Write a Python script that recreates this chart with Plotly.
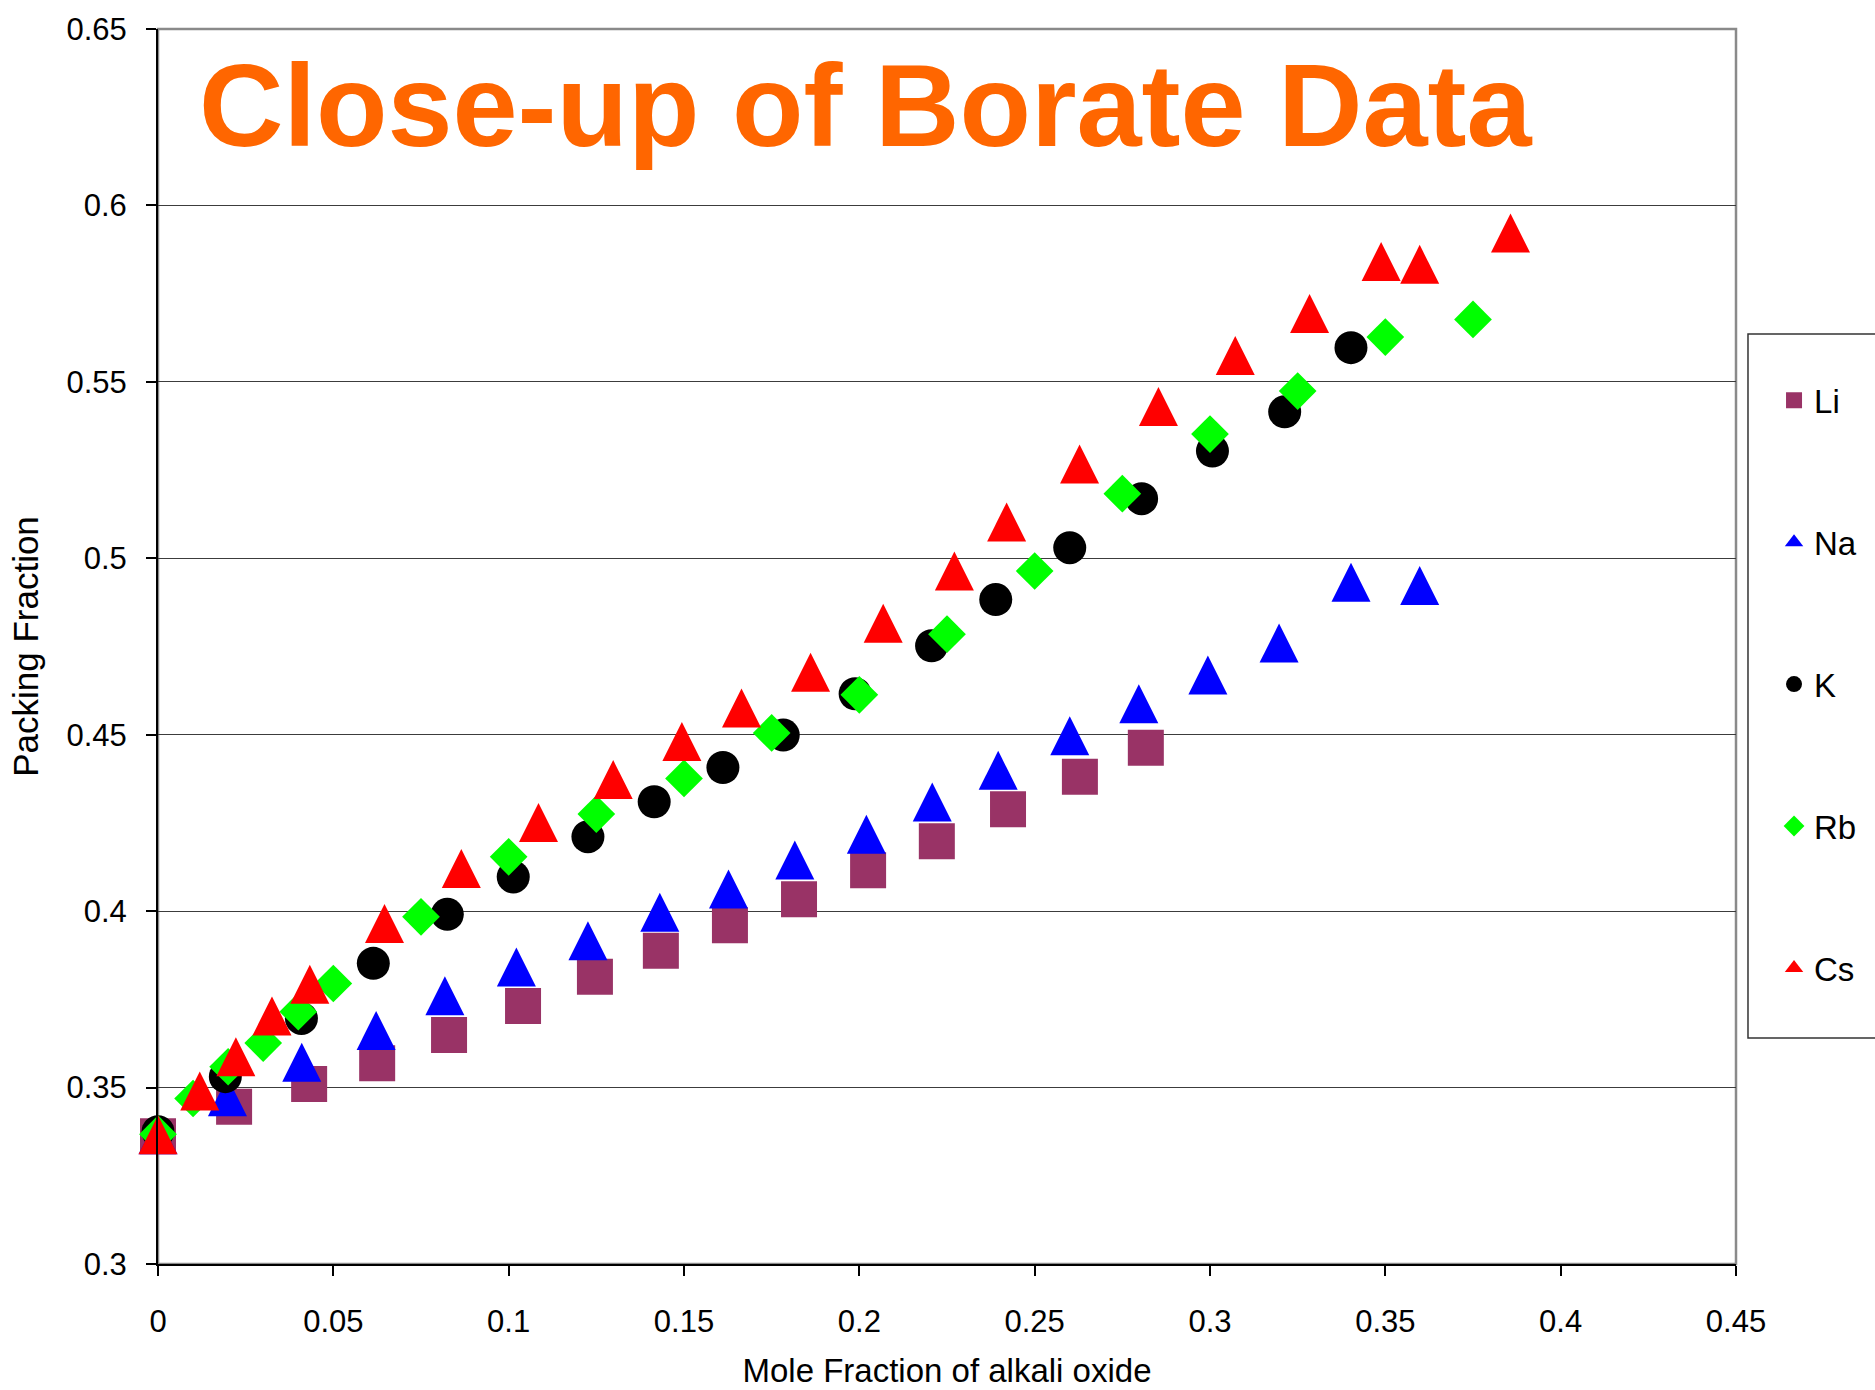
import plotly.graph_objects as go

# Mole fraction of alkali oxide (x) and packing fraction (y) for each borate series
li_x = [0, 0.0217, 0.0431, 0.0625, 0.083, 0.1041, 0.1246, 0.1434, 0.1631, 0.1828,
        0.2025, 0.2221, 0.2424, 0.2629, 0.2817]
li_y = [0.3362, 0.3446, 0.351, 0.3569, 0.3649, 0.3731, 0.3814, 0.3888, 0.396, 0.4034,
        0.4116, 0.4198, 0.4289, 0.4381, 0.4463]

na_x = [0, 0.0198, 0.041, 0.0622, 0.0818, 0.1022, 0.1226, 0.1431, 0.1627, 0.1816,
        0.202, 0.2208, 0.2396, 0.26, 0.2797, 0.2994, 0.3197, 0.3402, 0.3598]
na_y = [0.3366, 0.3474, 0.3572, 0.3662, 0.376, 0.3842, 0.3916, 0.3997, 0.4063, 0.4145,
        0.4218, 0.4309, 0.4399, 0.4497, 0.4588, 0.4669, 0.476, 0.4932, 0.4923]

k_x = [0, 0.0192, 0.0409, 0.0614, 0.0825, 0.1013, 0.1226, 0.1415, 0.1611, 0.1783,
       0.1988, 0.2206, 0.2389, 0.26, 0.2805, 0.3007, 0.3213, 0.3402]
k_y = [0.3375, 0.3531, 0.3696, 0.3852, 0.3991, 0.4097, 0.4211, 0.431, 0.4407, 0.4499,
       0.4616, 0.4752, 0.4883, 0.503, 0.5169, 0.5304, 0.5415, 0.5597]

rb_x = [0, 0.01, 0.02, 0.03, 0.04, 0.05, 0.075, 0.1, 0.125, 0.15, 0.175, 0.2, 0.225,
        0.25, 0.275, 0.3, 0.325, 0.35, 0.375]
rb_y = [0.3368, 0.3469, 0.3559, 0.3626, 0.3715, 0.3795, 0.3984, 0.4154, 0.4275, 0.4376,
        0.4505, 0.4613, 0.4785, 0.4964, 0.5183, 0.5352, 0.5474, 0.5627, 0.5677]

cs_x = [0, 0.0119, 0.0222, 0.0325, 0.0433, 0.0646, 0.0865, 0.1085, 0.1298, 0.1494,
        0.1664, 0.1861, 0.2068, 0.2271, 0.242, 0.2628, 0.2853, 0.3072, 0.3284, 0.3488,
        0.3598, 0.3857]
cs_y = [0.3366, 0.349, 0.3587, 0.3703, 0.3793, 0.3965, 0.4121, 0.4251, 0.4373, 0.4481,
        0.4576, 0.4677, 0.4816, 0.4964, 0.5103, 0.5267, 0.543, 0.5575, 0.5694, 0.5841,
        0.5833, 0.5922]

x_ticks = [0, 0.05, 0.1, 0.15, 0.2, 0.25, 0.3, 0.35, 0.4, 0.45]
x_labels = ["0", "0.05", "0.1", "0.15", "0.2", "0.25", "0.3", "0.35", "0.4", "0.45"]
y_ticks = [0.3, 0.35, 0.4, 0.45, 0.5, 0.55, 0.6, 0.65]
y_labels = ["0.3", "0.35", "0.4", "0.45", "0.5", "0.55", "0.6", "0.65"]

FONT = "Liberation Sans, Arial, sans-serif"
TRI = 39  # upright triangle: width and height equal to the marker size

fig = go.Figure()

# Li: squares
fig.add_trace(go.Scatter(
    x=li_x, y=li_y, mode="markers", name="Li", legendgroup="Li",
    marker=dict(symbol="square", size=36, color="#993366"), cliponaxis=False))

# Na: triangles (arrow glyph flipped upright and centred on the point)
fig.add_trace(go.Scatter(
    x=na_x, y=na_y, mode="markers", name="Na", legendgroup="Na", showlegend=False,
    marker=dict(symbol="arrow-down", angle=180, standoff=TRI / 2, size=TRI, color="#0000FF"),
    cliponaxis=False))
fig.add_trace(go.Scatter(
    x=[None], y=[None], mode="markers", name="Na", legendgroup="Na",
    marker=dict(symbol="triangle-up", size=16, color="#0000FF")))

# K: circles
fig.add_trace(go.Scatter(
    x=k_x, y=k_y, mode="markers", name="K", legendgroup="K",
    marker=dict(symbol="circle", size=33, color="#000000"), cliponaxis=False))

# Rb: diamonds
fig.add_trace(go.Scatter(
    x=rb_x, y=rb_y, mode="markers", name="Rb", legendgroup="Rb",
    marker=dict(symbol="diamond", size=29, color="#00FF00"), cliponaxis=False))

# Cs: triangles
fig.add_trace(go.Scatter(
    x=cs_x, y=cs_y, mode="markers", name="Cs", legendgroup="Cs", showlegend=False,
    marker=dict(symbol="arrow-down", angle=180, standoff=TRI / 2, size=TRI, color="#FF0000"),
    cliponaxis=False))
fig.add_trace(go.Scatter(
    x=[None], y=[None], mode="markers", name="Cs", legendgroup="Cs",
    marker=dict(symbol="triangle-up", size=16, color="#FF0000")))

fig.update_layout(
    width=1875, height=1390,
    margin=dict(l=158, r=139, t=29, b=126, pad=0, autoexpand=False),
    paper_bgcolor="white", plot_bgcolor="white",
    font=dict(family=FONT, color="black"),
    showlegend=True,
    legend=dict(
        x=1.0241, xanchor="left", y=0.722, yanchor="top",
        font=dict(family=FONT, size=33, color="black"),
        bgcolor="rgba(0,0,0,0)", borderwidth=0,
        tracegroupgap=96, traceorder="grouped",
    ),
    xaxis=dict(
        range=[0, 0.45], tickmode="array", tickvals=x_ticks, ticktext=x_labels,
        automargin=False,
        ticks="outside", ticklen=10, tickwidth=1.5, tickcolor="black",
        ticklabelstandoff=19,
        tickfont=dict(family=FONT, size=31, color="black"),
        showline=True, linecolor="black", linewidth=2,
        showgrid=False, zeroline=False,
        title=dict(text="Mole Fraction of alkali oxide", standoff=21,
                   font=dict(family=FONT, size=33, color="black")),
    ),
    yaxis=dict(
        range=[0.3, 0.65], tickmode="array", tickvals=y_ticks, ticktext=y_labels,
        automargin=False,
        ticks="outside", ticklen=10, tickwidth=1.5, tickcolor="black",
        ticklabelstandoff=13,
        tickfont=dict(family=FONT, size=31, color="black"),
        showline=True, linecolor="black", linewidth=2,
        showgrid=True, gridcolor="#3c3c3c", gridwidth=1.3, zeroline=False,
        title=dict(text="Packing Fraction", standoff=17,
                   font=dict(family=FONT, size=35, color="black")),
    ),
    shapes=[
        # plot-area frame (top and right edges show in grey)
        dict(type="rect", xref="paper", yref="paper", x0=0, y0=0, x1=1, y1=1,
             line=dict(color="#8a8a8a", width=2.5), layer="below"),
        # legend box
        dict(type="rect", xref="paper", yref="paper", x0=1.0076, x1=1.095,
             y0=0.183, y1=0.753, line=dict(color="#333333", width=1.5),
             fillcolor="rgba(0,0,0,0)", layer="above"),
    ],
    annotations=[
        dict(text="<b>Close-up of Borate Data</b>", xref="paper", yref="paper",
             x=0.0247, y=0.9377, xanchor="left", yanchor="middle", showarrow=False,
             font=dict(family=FONT, size=117, color="#FF6600")),
    ],
)

fig.write_html("out.html")
